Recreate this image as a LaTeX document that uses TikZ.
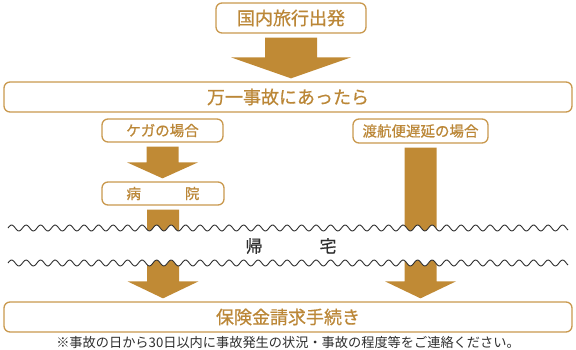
\documentclass[tikz,border=0pt]{standalone}
\usepackage{fontspec}
\newfontfamily\jpfont{Noto Sans CJK JP}
\newfontfamily\jpmid[FakeBold=0.7]{Noto Sans CJK JP}
\usetikzlibrary{calc}

\definecolor{arrowgold}{HTML}{C08A35}
\definecolor{boxgold}{HTML}{C9994E}
\definecolor{labelgold}{HTML}{BB8737}
\definecolor{inkgray}{HTML}{2E2E2E}

\tikzset{
    stepbox/.style={draw=boxgold, line width=1.3pt, rounded corners=6pt, fill=white,
        text=labelgold, inner sep=0pt, font=\jpmid\fontsize{18}{18}\selectfont},
    subbox/.style={stepbox, font=\jpmid\fontsize{14.5}{14.5}\selectfont},
    waveline/.style={draw=inkgray, line width=0.9pt},
}

% block arrow: from, to, half shaft, half head, head length
\newcommand{\blockarrow}[5]{%
    \fill[arrowgold] let \p1=(#1.south), \p2=(#2.north) in
        (\x1-#3pt,\y1-4pt) -- (\x1+#3pt,\y1-4pt) -- (\x1+#3pt,\y2+#5pt+3pt)
        -- (\x1+#4pt,\y2+#5pt+3pt) -- (\x1,\y2+3pt) -- (\x1-#4pt,\y2+#5pt+3pt)
        -- (\x1-#3pt,\y2+#5pt+3pt) -- cycle;
}
\newcommand{\wavey}[1]{#1-3*sin((\x-8)*24.8276)}

\begin{document}
\begin{tikzpicture}[x=1pt, y=-1pt]
    \useasboundingbox (0,0) rectangle (576,349);

    % boxes
    \node[stepbox, minimum width=150pt, minimum height=30pt] (start) at (291,18) {国内旅行出発};
    \node[stepbox, minimum width=568pt, minimum height=30pt] (accident) at (288,97) {万一事故にあったら};
    \node[subbox, minimum width=121pt, minimum height=23pt] (injury) at (162.5,130.5) {ケガの場合};
    \node[subbox, minimum width=135pt, minimum height=24pt] (delay) at (420.5,131) {渡航便遅延の場合};
    \node[subbox, minimum width=122pt, minimum height=23pt] (hospital) at (163,193.5) {病\hspace{44pt}院};
    \node[stepbox, minimum width=568pt, minimum height=30pt] (claim) at (288,317) {保険金請求手続き};

    % arrows
    \blockarrow{start}{accident}{26}{60}{21}
    \blockarrow{injury}{hospital}{16}{35.5}{16}
    \blockarrow{hospital}{claim}{16}{35.5}{17}
    \blockarrow{delay}{claim}{16}{35.5}{17}

    % home band
    \fill[white] plot[domain=8:568, samples=400] (\x,{\wavey{228}})
        -- plot[domain=568:8, samples=400] (\x,{\wavey{263}}) -- cycle;
    \draw[waveline] plot[domain=8:568, samples=400] (\x,{\wavey{228}});
    \draw[waveline] plot[domain=8:568, samples=400] (\x,{\wavey{263}});
    \node[font=\jpmid\fontsize{17}{17}\selectfont, text=inkgray] (home) at (291,246) {帰\hspace{57pt}宅};

    % footnote
    \node[font=\jpfont\fontsize{13.2}{13.2}\selectfont, text=inkgray] (note) at (288,342)
        {※事故の日から30日以内に事故発生の状況・事故の程度等をご連絡ください。};
\end{tikzpicture}
\end{document}
